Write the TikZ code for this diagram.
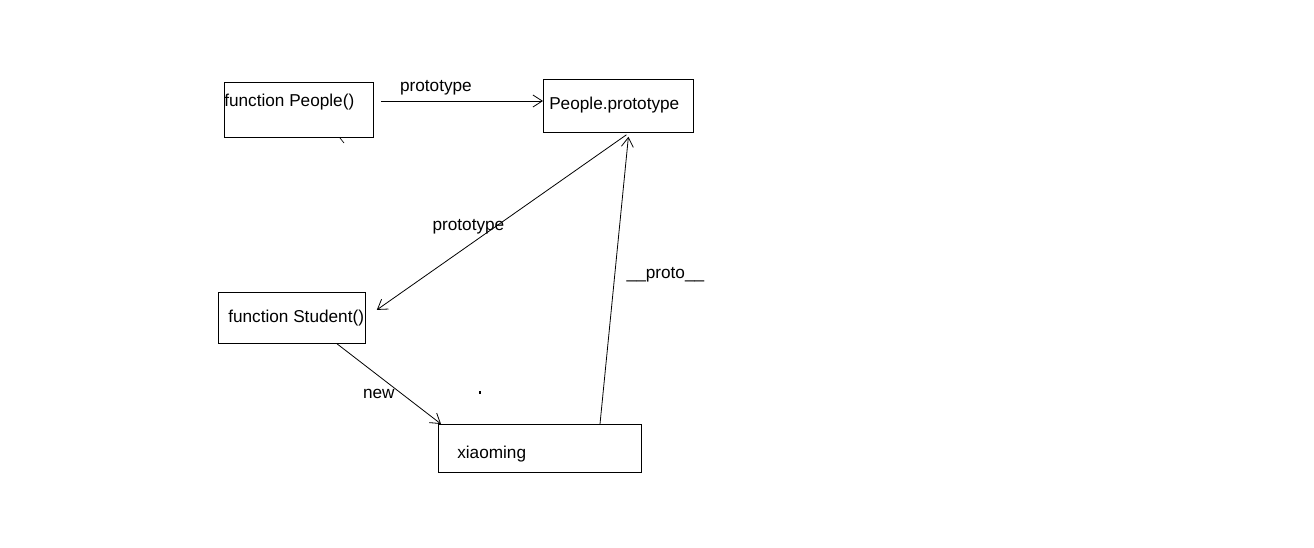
\documentclass[tikz,border=0pt]{standalone}
\usepackage{fontspec}
\setmainfont{Liberation Sans}
\usetikzlibrary{arrows.meta,positioning,calc}
\newlength{\px}
\setlength{\px}{0.75pt}

\begin{document}
\begin{tikzpicture}[x=0.75pt,y=-0.75pt,font=\fontsize{12.9pt}{15pt}\selectfont,
    box/.style={draw=black,line width=0.6pt,anchor=north west,inner sep=0pt},
    txt/.style={inner sep=0pt,anchor=west},
    lbl/.style={inner sep=1pt},
    arr/.style={line width=0.6pt,-{Straight Barb[length=7pt,width=9pt]}}]
  \useasboundingbox (0,0) rectangle (1314,547);
  % boxes
  \node[box,minimum width=149\px,minimum height=55\px] (people) at (224,82) {};
  \node[box,minimum width=150\px,minimum height=53\px] (pp) at (543,79) {};
  \node[box,minimum width=147\px,minimum height=51\px] (student) at (218,292) {};
  \node[box,minimum width=203\px,minimum height=48\px] (xm) at (438,424) {};
  \node[txt] (peopletxt) at (224,102) {function People()};
  \node[txt] (pptxt) at (549,105) {People.prototype};
  \node[txt] (studenttxt) at (228,318) {function Student()};
  \node[txt] (xmtxt) at (457,454) {xiaoming};
  % connectors
  \coordinate (pstart) at ($(people.north east)+(7,19)$);
  \draw[arr] (pstart) -- (pstart -| pp.west)
    node[lbl,pos=0.34,above=3pt] (l1) {prototype};
  \draw[arr] ($(pp.south)+(8,2)$) -- ($(student.east)+(11,-8)$)
    node[lbl,pos=0.51,xshift=-23pt,yshift=-2pt] (l2) {prototype};
  \draw[arr] ($(student.south west)+(119,0)$) -- ($(xm.north west)+(3,0)$)
    node[lbl,pos=0.62,xshift=-17pt] (l3) {new};
  \draw[arr] ($(xm.north west)+(162,0)$) -- ($(pp.south)+(10,4)$)
    node[lbl,pos=0.52,xshift=38pt] (l4) {\_\_proto\_\_};
  % stray marks
  \fill (479,391) rectangle (481,394);
  \draw[line width=0.5pt] (340,138) -- (344,143);
\end{tikzpicture}
\end{document}
